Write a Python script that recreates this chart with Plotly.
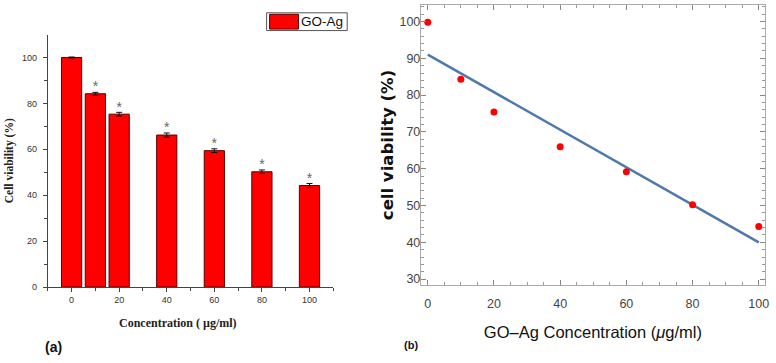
import plotly.graph_objects as go

# ---- data ----
conc = [0, 10, 20, 40, 60, 80, 100]
viability = [100, 84.2, 75.3, 66.2, 59.4, 50.2, 44.2]
viability_err = [0.2, 0.6, 0.8, 0.9, 0.8, 0.8, 0.9]
star_conc = [10, 20, 40, 60, 80, 100]
star_val = [84.2, 75.3, 66.2, 59.4, 50.2, 44.2]

pts_conc = [0, 10, 20, 40, 60, 80, 100]
pts_val = [99.8, 84.3, 75.4, 66.0, 59.2, 50.2, 44.3]
fit_conc = [0, 100]
fit_val = [91.0, 40.0]

fig = go.Figure()

# panel (a) bars
fig.add_trace(go.Bar(
    x=conc, y=viability, width=8.5,
    marker=dict(color="#ff0000", line=dict(color="#5a0000", width=1)),
    error_y=dict(type="data", array=viability_err, color="#111", thickness=1, width=3),
    xaxis="x", yaxis="y", showlegend=False, name="GO-Ag"))
fig.add_trace(go.Scatter(
    x=star_conc, y=[v - 0.4 for v in star_val], mode="text", text=["*"] * len(star_conc),
    textposition="top center", textfont=dict(family="Liberation Sans", size=14, color="#666"),
    xaxis="x", yaxis="y", showlegend=False, hoverinfo="skip"))

# panel (b)
fig.add_trace(go.Scatter(
    x=fit_conc, y=fit_val, mode="lines", line=dict(color="#4f78ab", width=2.5),
    xaxis="x2", yaxis="y2", showlegend=False))
fig.add_trace(go.Scatter(
    x=pts_conc, y=pts_val, mode="markers", marker=dict(color="#ff0000", size=7),
    xaxis="x2", yaxis="y2", showlegend=False))

tickfont_a = dict(family="Liberation Sans", size=9, color="#333")
tickfont_b = dict(family="Liberation Sans", size=12.5, color="#444")

fig.update_layout(
    width=776, height=363, margin=dict(l=0, r=0, t=0, b=0),
    paper_bgcolor="white", plot_bgcolor="white",
    xaxis=dict(domain=[0.0619, 0.4317], range=[-10, 110], tickvals=[0, 20, 40, 60, 80, 100],
               showgrid=False, zeroline=False, showline=True, linecolor="#444", linewidth=1,
               ticks="outside", ticklen=4, tickcolor="#444",
               minor=dict(tickvals=[-10, 10, 30, 50, 70, 90, 110], ticks="outside", ticklen=3, tickcolor="#444"),
               tickfont=tickfont_a, anchor="y"),
    yaxis=dict(domain=[0.1983, 0.9036], range=[0, 110], tickvals=[0, 20, 40, 60, 80, 100],
               showgrid=False, zeroline=False, showline=True, linecolor="#444", linewidth=1,
               ticks="outside", ticklen=4, tickcolor="#444", ticklabelstandoff=4,
               minor=dict(tickvals=[10, 30, 50, 70, 90], ticks="outside", ticklen=3, tickcolor="#444"),
               tickfont=tickfont_a, anchor="x",
               title=dict(text="<b>Cell viability (%)</b>", standoff=5,
                          font=dict(family="Liberation Serif", size=11.5, color="#222"))),
    xaxis2=dict(domain=[0.5451, 0.991], range=[-2.1, 101.9], dtick=20,
                showgrid=False, zeroline=False, showline=True, mirror="allticks",
                linecolor="#aaa", linewidth=1, ticks="inside", ticklen=5, tickcolor="#888",
                ticklabelstandoff=7,
                minor=dict(dtick=5, ticks="inside", ticklen=3, tickcolor="#999"),
                tickfont=tickfont_b, anchor="y2",
                title=dict(text="GO\u2013Ag Concentration (<i>\u03bc</i>g/ml)", standoff=16,
                           font=dict(family="Liberation Sans", size=16.5, color="#111"))),
    yaxis2=dict(domain=[0.2039, 0.9862], range=[28.4, 104.5], dtick=10,
                showgrid=False, zeroline=False, showline=True, mirror="allticks",
                linecolor="#aaa", linewidth=1, ticks="inside", ticklen=5, tickcolor="#888",
                ticklabelstandoff=-3,
                minor=dict(dtick=2, ticks="inside", ticklen=3, tickcolor="#999"),
                tickfont=tickfont_b, anchor="x2",
                title=dict(text="<b>cell viability (%)</b>", standoff=1,
                           font=dict(family="DejaVu Sans", size=16.5, color="#111"))),
    shapes=[
        dict(type="rect", xref="paper", yref="paper", x0=268/776, x1=349/776,
             y0=1-31/363, y1=1-13/363, line=dict(color="#555", width=1), fillcolor="white"),
        dict(type="rect", xref="paper", yref="paper", x0=271/776, x1=300/776,
             y0=1-29.5/363, y1=1-14.5/363, line=dict(color="#5a0000", width=1), fillcolor="#ff0000"),
    ],
    annotations=[
        dict(text="GO-Ag", xref="paper", yref="paper", x=301/776, y=1-22/363,
             xanchor="left", yanchor="middle", showarrow=False,
             font=dict(family="Liberation Sans", size=13.5, color="#111")),
        dict(text="<b>Concentration ( µg/ml)</b>", xref="paper", yref="paper", x=179/776, y=1-328/363,
             xanchor="center", yanchor="middle", showarrow=False,
             font=dict(family="Liberation Serif", size=12, color="#222")),
        dict(text="<b>(a)</b>", xref="paper", yref="paper", x=43/776, y=1-352/363,
             xanchor="left", yanchor="middle", showarrow=False,
             font=dict(family="Liberation Sans", size=14, color="#111")),
        dict(text="<b>(b)</b>", xref="paper", yref="paper", x=404/776, y=1-350/363,
             xanchor="left", yanchor="middle", showarrow=False,
             font=dict(family="Liberation Sans", size=11, color="#111")),
    ],
)

fig.write_html("out.html", config={"displayModeBar": False},
               post_script="document.body.style.margin='0';document.body.style.overflow='hidden';")
